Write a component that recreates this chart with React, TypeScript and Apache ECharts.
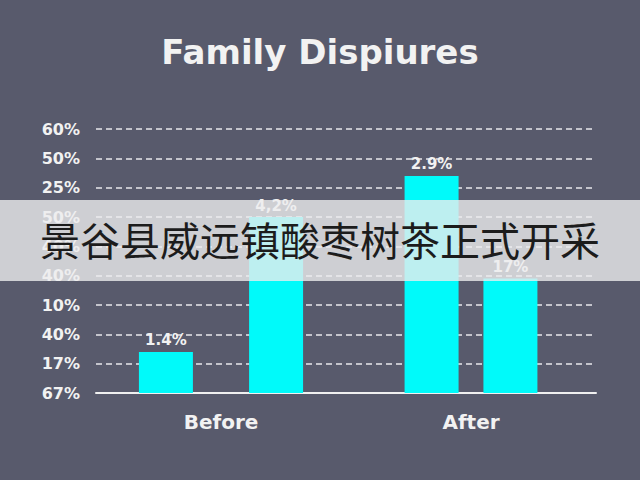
import { useEffect, useRef } from "react";
import * as echarts from "echarts";

const categories = ["Before", "After"];
// y tick labels from bottom (0) to top (9), as printed on the chart
const yTickLabels = ["67%", "17%", "40%", "10%", "40%", "40%", "50%", "25%", "50%", "60%"];
// bar heights in tick units
const firstBarValues = [1.4, 7.4];
const secondBarValues = [6.0, 3.9];
const firstBarLabels = ["1.4%", "2.9%"];
const secondBarLabels = ["4,2%", "17%"];
const title = "Family Dispiures";
const caption = "景谷县威远镇酸枣树茶正式开采";

const BG = "#585a6c";
const CYAN = "#00fafa";
const TEXT = "#f2f2f2";
const FONT = "DejaVu Sans";

export default function App() {
  const ref = useRef<HTMLDivElement>(null);

  useEffect(() => {
    if (!ref.current) return;
    const chart = echarts.init(ref.current, undefined, { renderer: "svg" });

    const onlyAt = (values: number[], idx: number) =>
      values.map((v, i) => (i === idx ? v : null));

    const barLabel = (texts: string[]) => ({
      show: true,
      position: "top" as const,
      distance: 4,
      color: TEXT,
      fontSize: 15,
      fontWeight: "bold" as const,
      fontFamily: FONT,
      formatter: (p: any) => texts[p.dataIndex],
    });

    const makeSeries = (axis: number, gap: string) => [
      {
        type: "bar",
        xAxisIndex: axis,
        barWidth: 54,
        barGap: gap,
        data: onlyAt(firstBarValues, axis),
        itemStyle: { color: CYAN },
        label: barLabel(firstBarLabels),
      },
      {
        type: "bar",
        xAxisIndex: axis,
        barWidth: 54,
        barGap: gap,
        data: onlyAt(secondBarValues, axis),
        itemStyle: { color: CYAN },
        label: barLabel(secondBarLabels),
      },
    ];

    chart.setOption({
      animation: false,
      backgroundColor: BG,
      title: {
        text: title,
        left: "center",
        top: 35,
        padding: 0,
        textStyle: {
          color: TEXT,
          fontSize: 34,
          fontWeight: "bold",
          fontFamily: FONT,
        },
      },
      grid: { left: 96, right: 44, top: 129, bottom: 87 },
      xAxis: [
        {
          type: "category",
          data: categories,
          axisLine: { lineStyle: { color: "#f0f0f0", width: 2 } },
          axisTick: { show: false },
          axisLabel: {
            color: TEXT,
            fontSize: 20,
            fontWeight: "bold",
            fontFamily: FONT,
            margin: 19,
          },
        },
        { type: "category", data: categories, show: false },
      ],
      yAxis: {
        type: "value",
        min: 0,
        max: 9,
        interval: 1,
        axisLine: { show: false },
        axisTick: { show: false },
        axisLabel: {
          color: TEXT,
          fontSize: 16,
          fontWeight: "bold",
          fontFamily: FONT,
          margin: 16,
          formatter: (v: number) => yTickLabels[Math.round(v)] ?? "",
        },
        splitLine: {
          lineStyle: { color: "#e8e8ec", type: [6, 4], width: 1.5 },
        },
      },
      series: [...makeSeries(0, "104%"), ...makeSeries(1, "46%")],
      graphic: [
        {
          type: "rect",
          left: 0,
          top: 200,
          z: 100,
          shape: { width: 640, height: 81 },
          style: { fill: "rgba(236,236,238,0.8)" },
        },
        {
          type: "text",
          left: "center",
          top: 219,
          z: 101,
          style: {
            text: caption,
            fill: "#1c1c1c",
            fontSize: 40,
            fontFamily: "Noto Sans CJK SC",
          },
        },
      ],
    });

    return () => chart.dispose();
  }, []);

  return (
    <div
      ref={ref}
      style={{ width: 640, height: 480, position: "absolute", left: 0, top: 0 }}
    />
  );
}
